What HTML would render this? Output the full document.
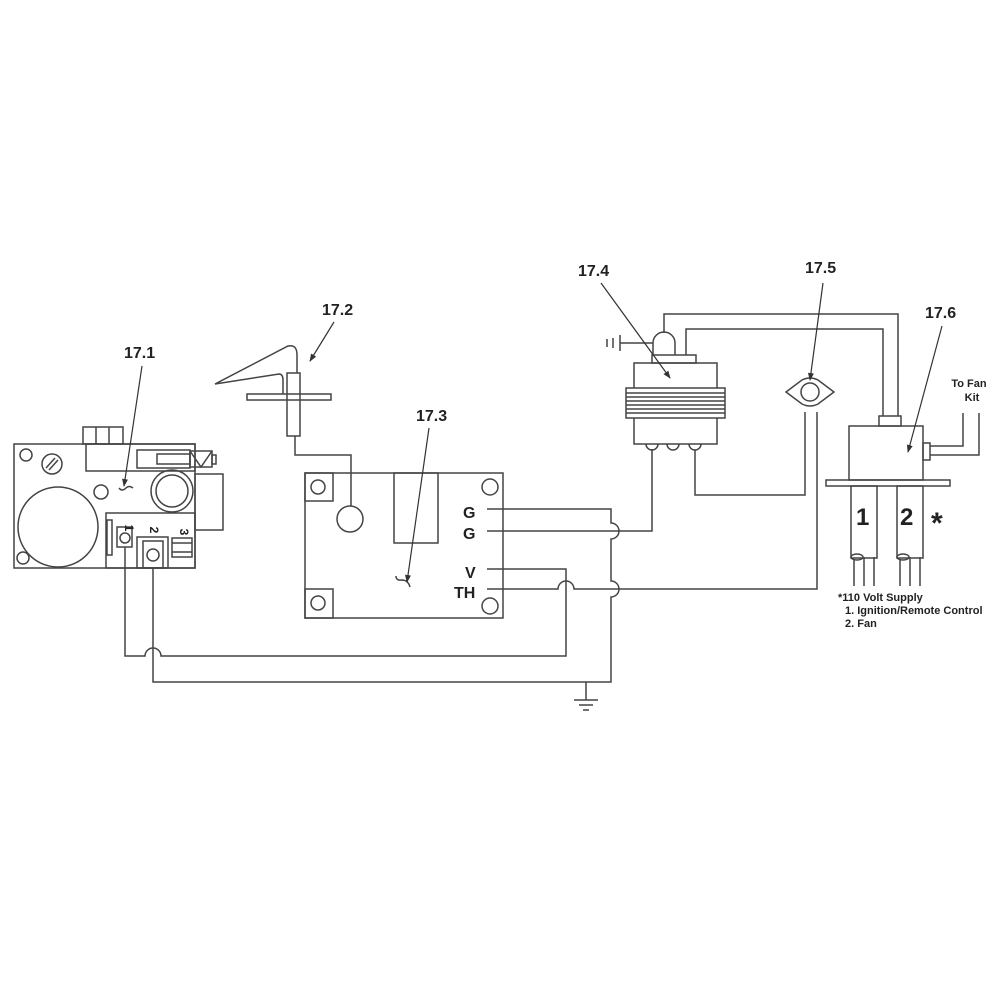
<!DOCTYPE html>
<html><head><meta charset="utf-8"><style>
html,body{margin:0;padding:0;background:#fff}
svg{display:block}
text{font-family:"Liberation Sans",Arial,sans-serif;font-weight:bold;fill:#222}
</style></head><body>
<svg width="1000" height="1000" viewBox="0 0 1000 1000" xmlns="http://www.w3.org/2000/svg">
<defs><marker id="ah" markerWidth="8" markerHeight="8" refX="7" refY="4" orient="auto" markerUnits="userSpaceOnUse"><path d="M0,1 L8,4 L0,7 Z" fill="#333"/></marker></defs>
<g fill="none" stroke="#444" stroke-width="1.5">
<!-- 17.1 gas valve -->
<rect x="14" y="444" width="181" height="124"/>
<rect x="83" y="427" width="40" height="17"/><line x1="96" y1="427" x2="96" y2="444"/><line x1="109" y1="427" x2="109" y2="444"/>
<rect x="86" y="444" width="109" height="27"/>
<rect x="137" y="450" width="53" height="18"/>
<rect x="157" y="454" width="33" height="10"/>
<rect x="190" y="451" width="22" height="16"/><path d="M190,451 L201,467 L212,451"/>
<rect x="212" y="455" width="4" height="9"/>
<rect x="195" y="474" width="28" height="56"/>
<circle cx="58" cy="527" r="40"/>
<circle cx="26" cy="455" r="6"/><circle cx="23" cy="558" r="6"/><circle cx="101" cy="492" r="7"/>
<circle cx="52" cy="464" r="10"/><line x1="46" y1="468" x2="55" y2="458"/><line x1="49" y1="470" x2="58" y2="460"/>
<circle cx="172" cy="491" r="21"/><circle cx="172" cy="491" r="16"/>
<rect x="106" y="513" width="89" height="55"/>
<rect x="107" y="520" width="5" height="35"/>
<rect x="117" y="527" width="15" height="20"/><circle cx="125" cy="538" r="5"/>
<rect x="137" y="537" width="31" height="31"/><rect x="143" y="541" width="20" height="27"/><circle cx="153" cy="555" r="6"/>
<rect x="172" y="538" width="20" height="19"/><line x1="172" y1="543" x2="192" y2="543"/><line x1="172" y1="552" x2="192" y2="552"/>
<path d="M119,488 q3,4 7,0 q3,-3 7,0" />
<!-- 17.2 pilot -->
<rect x="247" y="394" width="84" height="6"/>
<rect x="287" y="373" width="13" height="63"/>
<path d="M215,384 L288,346 Q297,344 297,355 L297,373"/>
<path d="M215,384 L279,374 Q283,374 283,380 L283,394"/>
<path d="M295,436 L295,455 L351,455 L351,506"/>
<circle cx="350" cy="519" r="13"/>
<!-- 17.3 board -->
<rect x="305" y="473" width="198" height="145"/>
<rect x="305" y="473" width="28" height="28"/><circle cx="318" cy="487" r="7"/>
<rect x="305" y="589" width="28" height="29"/><circle cx="318" cy="603" r="7"/>
<circle cx="490" cy="487" r="8"/><circle cx="490" cy="606" r="8"/>
<rect x="394" y="473" width="44" height="70"/>
<path d="M396,576 q0,5 6,4 q6,0 8,7"/>
<!-- wires -->
<path d="M487,509 L611,509 L611,523 A8,8 0 0 1 611,539 L611,581 A8,8 0 0 1 611,597 L611,682 L153,682 L153,568"/>
<path d="M487,531 L652,531 L652,449"/>
<path d="M487,569 L566,569 L566,656 L161,656 A8,8 0 0 0 145,656 L125,656 L125,547"/>
<path d="M487,589 L558,589 A8,8 0 0 1 574,589 L817,589 L817,412"/>
<path d="M586,682 L586,700 M574,700 L598,700 M579,705 L593,705 M583,710 L589,710"/>
<!-- 17.4 transformer -->
<rect x="652" y="355" width="44" height="8"/>
<rect x="634" y="363" width="83" height="81"/>
<rect x="626" y="388" width="99" height="30" fill="#fff"/>
<path d="M626,393 H725 M626,397 H725 M626,401 H725 M626,405 H725 M626,409 H725 M626,413 H725"/>
<path d="M646,444 A6,6 0 0 0 658,444 M667,444 A6,6 0 0 0 679,444 M689,444 A6,6 0 0 0 701,444"/>
<path d="M653,355 L653,343 A11,11 0 0 1 675,343 L675,355"/>
<path d="M620,343 L653,343 M620,335 L620,351 M613,338 L613,348 M607,339 L607,347"/>
<path d="M686,355 L686,329 L883,329 L883,416"/>
<path d="M664,333 L664,314 L898,314 L898,416"/>
<path d="M695,450 L695,495 L805,495 L805,412"/>
<!-- 17.5 -->
<path d="M786,392 L802,380 Q810,376 818,380 L834,392 L818,404 Q810,408 802,404 Z"/>
<circle cx="810" cy="392" r="9"/>
<!-- 17.6 -->
<rect x="879" y="416" width="22" height="10"/>
<rect x="849" y="426" width="74" height="54"/>
<rect x="826" y="480" width="124" height="6"/>
<rect x="923" y="443" width="7" height="17"/>
<path d="M930,446 L963,446 L963,413 M930,455 L979,455 L979,413"/>
<rect x="851" y="486" width="26" height="72"/>
<rect x="897" y="486" width="26" height="72"/>
<ellipse cx="857" cy="557" rx="6" ry="3"/><ellipse cx="903" cy="557" rx="6" ry="3"/>
<path d="M854,560 V586 M864,557 V586 M874,557 V586 M900,560 V586 M910,557 V586 M920,557 V586"/>
</g>
<!-- leaders -->
<g stroke="#333" stroke-width="1.2" fill="none" marker-end="url(#ah)">
<line x1="142" y1="366" x2="124" y2="486"/>
<line x1="334" y1="322" x2="310" y2="361"/>
<line x1="429" y1="428" x2="407" y2="582"/>
<line x1="601" y1="283" x2="670" y2="378"/>
<line x1="823" y1="283" x2="810" y2="380"/>
<line x1="942" y1="326" x2="908" y2="452"/>
</g>
<g font-size="16">
<text x="124" y="358">17.1</text>
<text x="322" y="315">17.2</text>
<text x="416" y="421">17.3</text>
<text x="578" y="276">17.4</text>
<text x="805" y="273">17.5</text>
<text x="925" y="318">17.6</text>
<text x="463" y="518">G</text>
<text x="463" y="539">G</text>
<text x="465" y="578">V</text>
<text x="454" y="598">TH</text>
</g>
<g font-size="12">
<text x="129" y="524" transform="rotate(90 125 524)" text-anchor="middle">1</text>
<text x="154" y="526" transform="rotate(90 150 526)" text-anchor="middle">2</text>
<text x="184" y="528" transform="rotate(90 180 528)" text-anchor="middle">3</text>
</g>
<g font-size="11">
<text x="969" y="387" text-anchor="middle">To Fan</text>
<text x="972" y="401" text-anchor="middle">Kit</text>
<text x="838" y="601">*110 Volt Supply</text>
<text x="845" y="614">1.  Ignition/Remote Control</text>
<text x="845" y="627">2.  Fan</text>
</g>
<g font-size="24">
<text x="856" y="525">1</text>
<text x="900" y="525">2</text>
<text x="931" y="533" font-size="30">*</text>
</g>
</svg>
</body></html>
